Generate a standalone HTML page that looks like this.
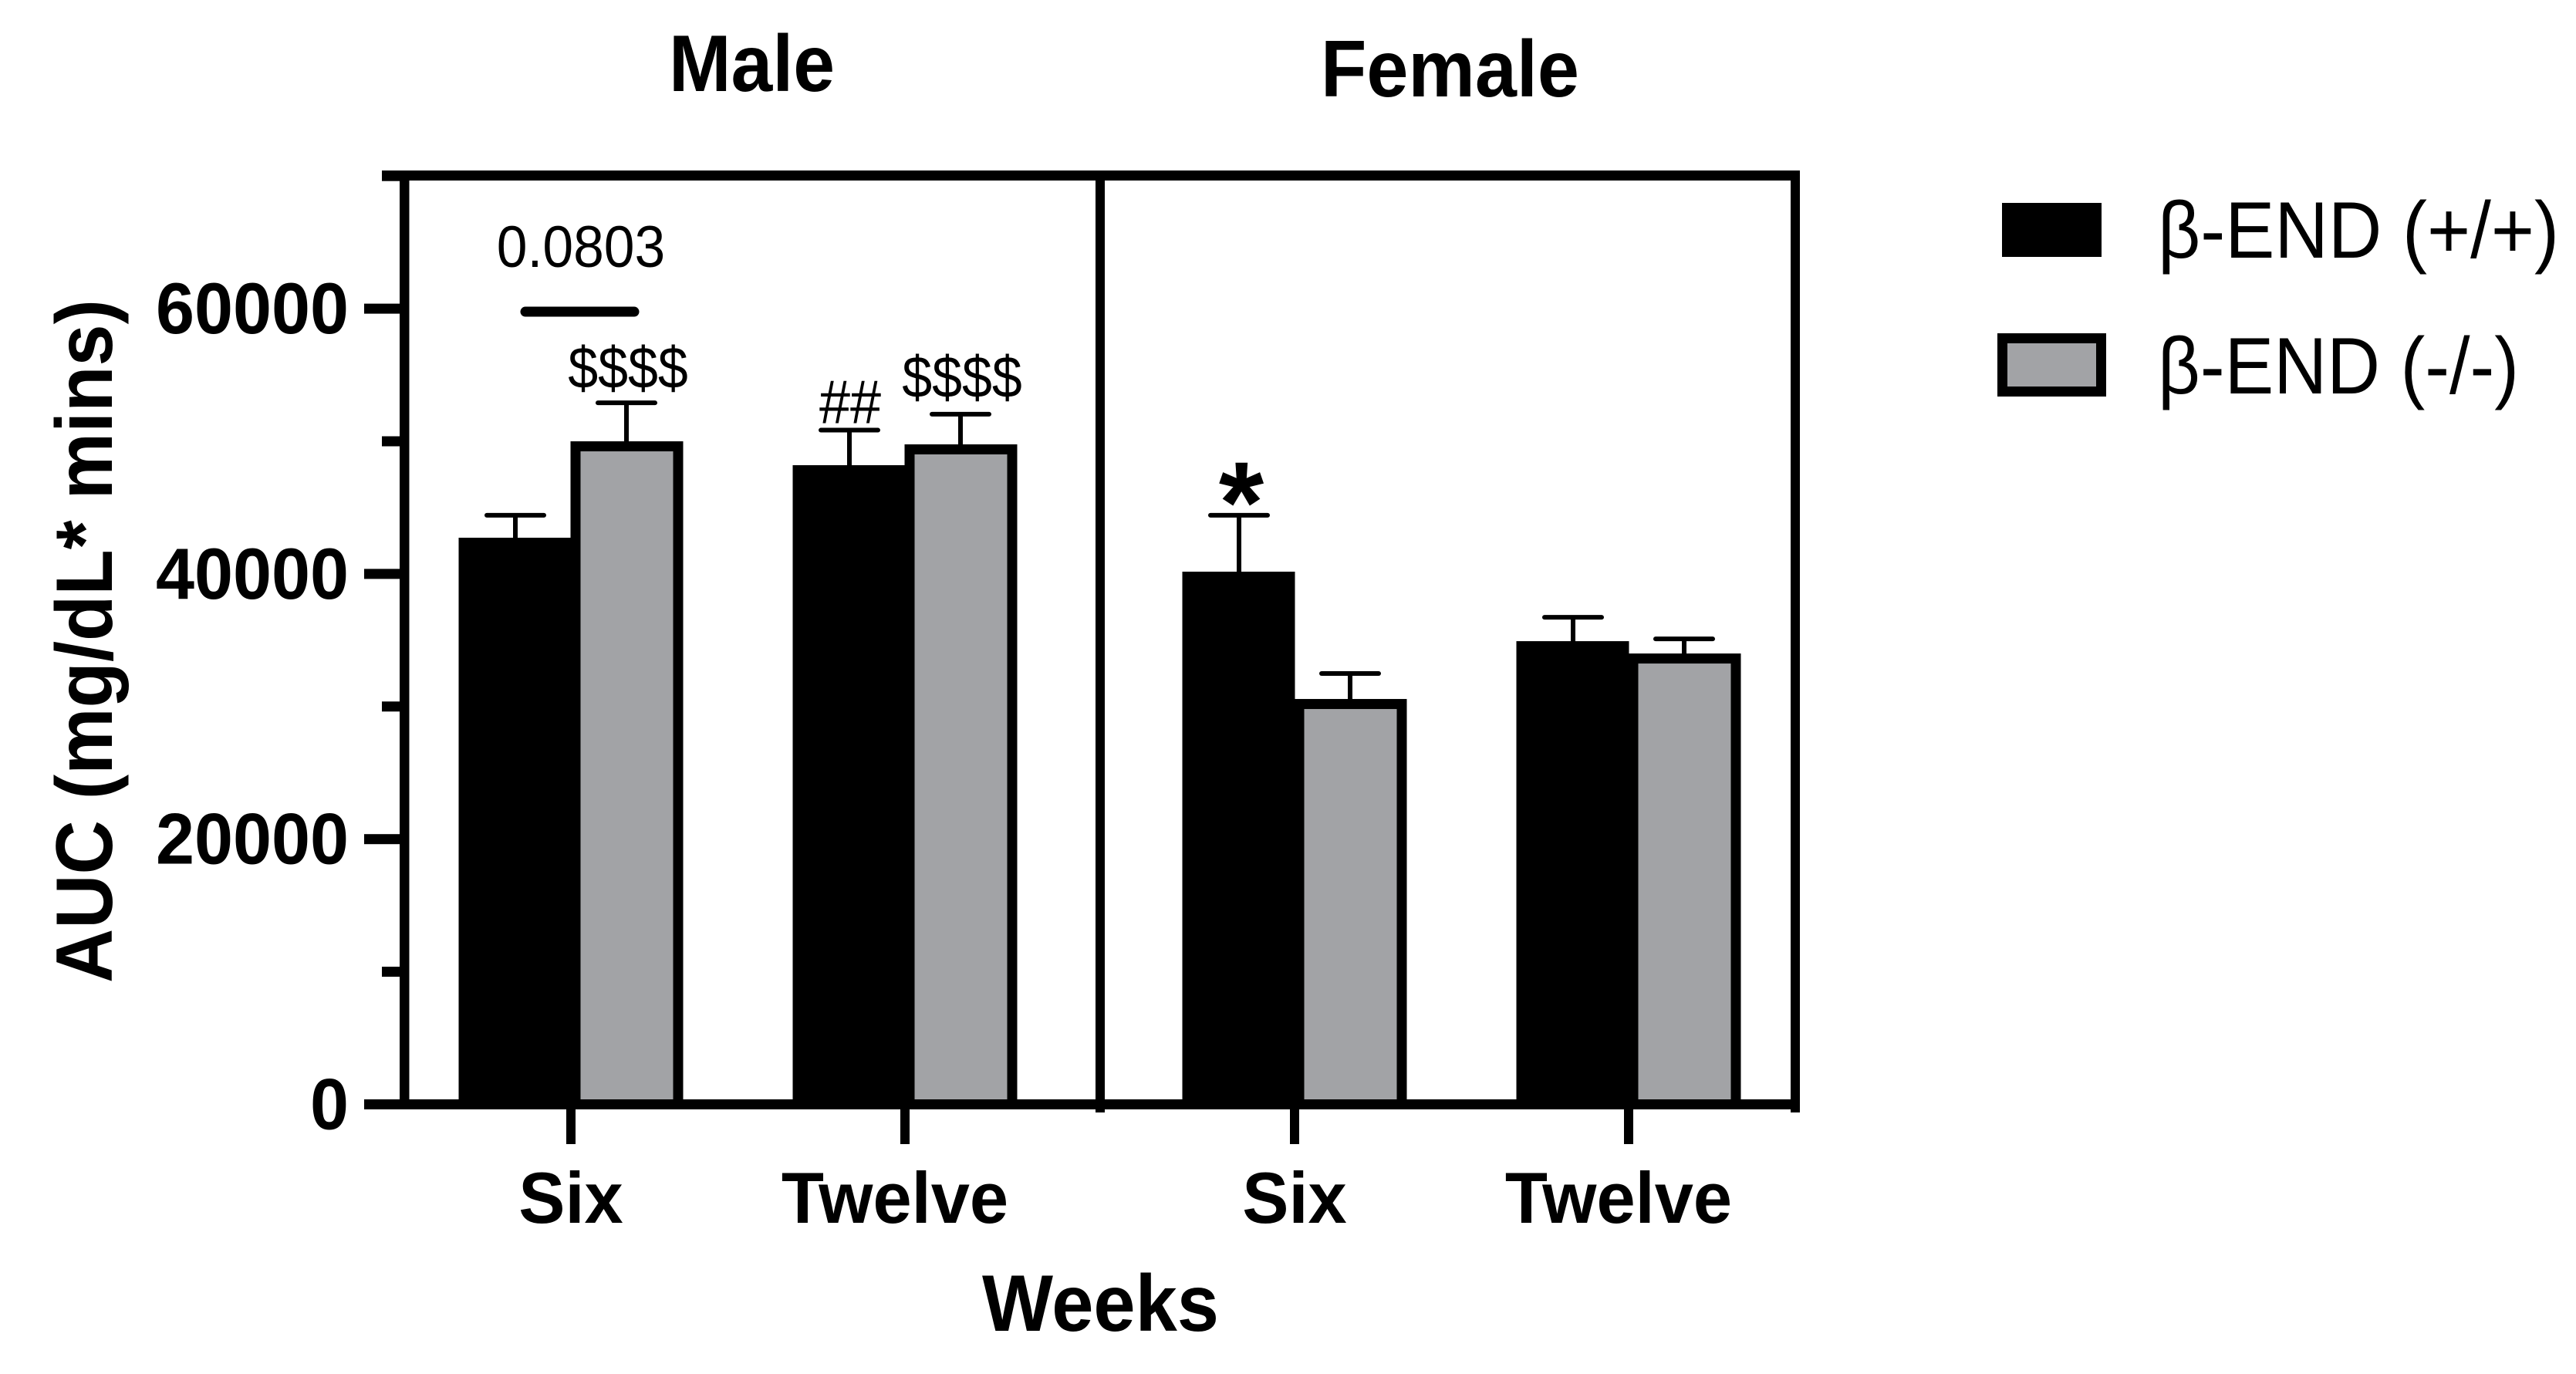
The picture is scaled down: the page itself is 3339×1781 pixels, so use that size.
<!DOCTYPE html>
<html lang="en">
<head>
<meta charset="utf-8">
<title>AUC by genotype, sex and age</title>
<style>
html,body{margin:0;padding:0;background:#fff;}
svg{display:block;}
text{font-family:"Liberation Sans",Arial,sans-serif;fill:#000;}
.b{font-weight:bold;}
</style>
</head>
<body>
<svg id="chart" xmlns="http://www.w3.org/2000/svg" width="3339" height="1781" viewBox="0 0 3339 1781">
  <rect x="0" y="0" width="3339" height="1781" fill="#fff"/>
  <g id="marks"></g>
  <g id="axes"></g>
  <g id="notes"></g>

  <text class="b" x="867" y="118" font-size="104" textLength="215" lengthAdjust="spacingAndGlyphs">Male</text>
  <text class="b" x="1712" y="125" font-size="104" textLength="335" lengthAdjust="spacingAndGlyphs">Female</text>
  <text class="b" x="1273" y="1725" font-size="104" textLength="307" lengthAdjust="spacingAndGlyphs">Weeks</text>
  <text class="b" transform="translate(145,1274) rotate(-90)" x="0" y="0" font-size="104" textLength="886" lengthAdjust="spacingAndGlyphs">AUC (mg/dL* mins)</text>

  <g>
    <rect x="2595" y="263" width="129" height="70" fill="#000"/>
    <text x="2797" y="334" font-size="104" textLength="520" lengthAdjust="spacingAndGlyphs">β-END (+/+)</text>
    <rect x="2595.5" y="438.5" width="128" height="69" fill="#a2a3a6" stroke="#000" stroke-width="13"/>
    <text x="2797" y="510" font-size="104" textLength="468" lengthAdjust="spacingAndGlyphs">β-END (-/-)</text>
  </g>
</svg>
<script>
// ---- data ----
var panels = ['Male', 'Female'];
var weeks = ['Six', 'Twelve'];
var wildtypeMale = [42350, 47820];
var wildtypeMaleErr = [44420, 50840];
var knockoutMale = [49620, 49390];
var knockoutMaleErr = [52900, 52040];
var wildtypeFemale = [39790, 34550];
var wildtypeFemaleErr = [44420, 36730];
var knockoutFemale = [30190, 33620];
var knockoutFemaleErr = [32490, 35100];
var yMajorTicks = [0, 20000, 40000, 60000];
var yMajorLabels = ['0', '20000', '40000', '60000'];
var yMinorTicks = [10000, 30000, 50000, 70000];
var trendValue = 59770;

// ---- scales ----
var NS = 'http://www.w3.org/2000/svg';
var PLOT_BOTTOM = 1431.5, PX_PER_UNIT = 343.8 / 20000;
function y(v) { return PLOT_BOTTOM - v * PX_PER_UNIT; }
function groupX(panel, week) { return 740 + panel * 938 + week * 433; }

var marks = document.getElementById('marks');
var axes = document.getElementById('axes');
var notes = document.getElementById('notes');

function mk(parent, tag, attrs, txt) {
  var el = document.createElementNS(NS, tag);
  for (var k in attrs) el.setAttribute(k, attrs[k]);
  if (txt !== undefined) el.textContent = txt;
  parent.appendChild(el);
  return el;
}

function drawBar(panel, week, side, val, err, fill, nm) {
  var cx = groupX(panel, week) + side * 72.5;
  var capX = groupX(panel, week) + side * 72;
  var stem = mk(marks, 'line', {x1: capX, x2: capX, y1: y(val), y2: y(err), stroke: '#000', 'stroke-width': 6});
  
  
  var cap = mk(marks, 'line', {x1: capX - 37, x2: capX + 37, y1: y(err), y2: y(err), stroke: '#000', 'stroke-width': 6, 'stroke-linecap': 'round'});
  
  
  var bar = mk(marks, 'rect', {x: cx - 66.5, y: y(val), width: 133, height: y(0) - y(val), fill: fill, stroke: '#000', 'stroke-width': 13});
  
  
}

weeks.forEach(function (w, i) {
  var wk = w.toLowerCase();
  drawBar(0, i, -1, wildtypeMale[i], wildtypeMaleErr[i], '#000', 'male-' + wk + '-wildtype');
  drawBar(0, i, 1, knockoutMale[i], knockoutMaleErr[i], '#a2a3a6', 'male-' + wk + '-knockout');
  drawBar(1, i, -1, wildtypeFemale[i], wildtypeFemaleErr[i], '#000', 'female-' + wk + '-wildtype');
  drawBar(1, i, 1, knockoutFemale[i], knockoutFemaleErr[i], '#a2a3a6', 'female-' + wk + '-knockout');
});

// ---- frame ----
var frameTop = mk(axes, 'rect', {x: 495, y: 221, width: 1838, height: 13, fill: '#000'});


var yAxis = mk(axes, 'rect', {x: 518, y: 221, width: 12.5, height: 1217, fill: '#000'});


var xAxis = mk(axes, 'rect', {x: 472, y: 1425, width: 1861, height: 13, fill: '#000'});


var frameRight = mk(axes, 'rect', {x: 2321, y: 221, width: 12, height: 1221, fill: '#000'});


var divider = mk(axes, 'rect', {x: 1420, y: 221, width: 12, height: 1221, rx: 0, fill: '#000'});



// ---- y ticks ----
yMajorTicks.forEach(function (v, i) {
  var t = mk(axes, 'rect', {x: 472, y: y(v) - 6.5, width: 48, height: 13, fill: '#000'});
  
  
  var lab = yMajorLabels[i];
  var l = mk(axes, 'text', {x: 452, y: y(v) + 32, 'font-size': 94, 'font-weight': 'bold', 'text-anchor': 'end', textLength: lab.length * 50, lengthAdjust: 'spacingAndGlyphs'}, lab);
  
  
});
yMinorTicks.forEach(function (v) {
  var t = mk(axes, 'rect', {x: 495, y: y(v) - 6.5, width: 25, height: 13, fill: '#000'});
  
  
});

// ---- x ticks ----
panels.forEach(function (p, pi) {
  weeks.forEach(function (w, i) {
    var gx = groupX(pi, i);
    var t = mk(axes, 'rect', {x: gx - 6, y: 1436, width: 12, height: 47, fill: '#000'});
    
    
    var shift = i === 0 ? 0 : -13;
    var l = mk(axes, 'text', {transform: 'translate(' + (gx + shift) + ',1585) scale(0.96,1)', 'font-size': 94, 'font-weight': 'bold', 'text-anchor': 'middle'}, w);
    
    
  });
});

// ---- annotations ----
function note(txt, cx, base, size, sx, bold, nm) {
  var n = mk(notes, 'text', {transform: 'translate(' + cx + ',' + base + ') scale(' + sx + ',1)', 'font-size': size, 'text-anchor': 'middle'}, txt);
  if (bold) n.setAttribute('font-weight', 'bold');
  
  
}
var trend = mk(notes, 'line', {x1: 681, x2: 822, y1: y(trendValue), y2: y(trendValue), stroke: '#000', 'stroke-width': 13, 'stroke-linecap': 'round'});


note('0.0803', 753, y(trendValue) - 58, 76, 0.94, false, 'trend-p-value');
note('$$$$', groupX(0, 0) + 74, y(knockoutMaleErr[0]) - 19, 76, 0.92, false, 'significance-male-six-knockout');
note('##', groupX(0, 1) - 71, y(wildtypeMaleErr[1]) - 9, 80, 0.9, false, 'significance-male-twelve-wildtype');
note('$$$$', groupX(0, 1) + 74, y(knockoutMaleErr[1]) - 22, 76, 0.92, false, 'significance-male-twelve-knockout');
note('*', groupX(1, 0) - 69, y(wildtypeFemaleErr[0]) + 35, 150, 1, true, 'significance-female-six-wildtype');
</script>
</body>
</html>
